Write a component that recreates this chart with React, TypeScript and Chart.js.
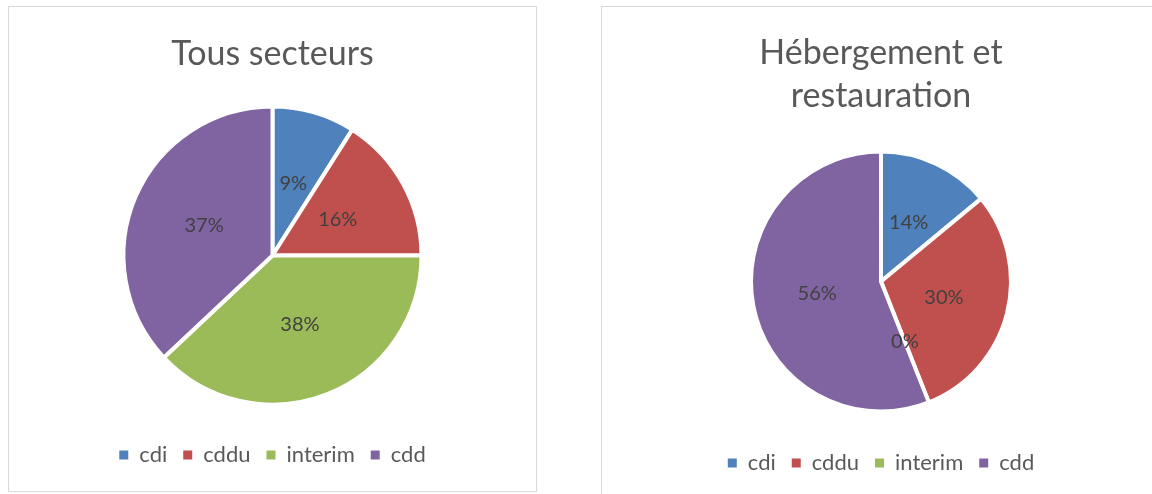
import React, { useEffect, useRef } from "react";
import { Chart, registerables } from "chart.js";

Chart.register(...registerables);

const categories = ["cdi", "cddu", "interim", "cdd"];
const colors = ["#4F81BD", "#C0504D", "#9BBB59", "#8064A2"];
const valuesAll = [9, 16, 38, 37];
const valuesHotel = [14, 30, 0, 56];
const titleAll = "Tous secteurs";
const titleHotel = ["Hébergement et", "restauration"];

const FONT = "Lato, 'Open Sans', sans-serif";

const labelPlugin = {
  id: "sliceLabels",
  afterDatasetsDraw(chart: any) {
    const ctx = chart.ctx;
    const meta = chart.getDatasetMeta(0);
    const data = chart.data.datasets[0].data;
    ctx.save();
    ctx.font = `20px ${FONT}`;
    ctx.fillStyle = "#404040";
    ctx.textAlign = "center";
    ctx.textBaseline = "middle";
    meta.data.forEach((arc: any, i: number) => {
      const p = arc.tooltipPosition(false);
      ctx.fillText(`${data[i]}%`, p.x, p.y);
    });
    ctx.restore();
  },
};

type PieProps = {
  values: number[];
  title: string | string[];
  radius: number;
  titlePad: { top: number; bottom: number };
  titleLineHeight: number;
  legendPad: number;
  bottomPad: number;
};

function PieChart(props: PieProps) {
  const ref = useRef<HTMLCanvasElement | null>(null);
  useEffect(() => {
    if (!ref.current) return;
    const chart = new Chart(ref.current, {
      type: "pie",
      data: {
        labels: categories,
        datasets: [
          {
            data: props.values,
            backgroundColor: colors,
            borderColor: "#ffffff",
            borderWidth: 4,
            radius: props.radius,
          } as any,
        ],
      },
      options: {
        animation: false,
        responsive: true,
        maintainAspectRatio: false,
        layout: { padding: { top: 0, bottom: props.bottomPad, left: 0, right: 0 } },
        plugins: {
          tooltip: { enabled: false },
          title: {
            display: true,
            text: props.title,
            color: "#595959",
            font: { family: FONT, size: 34, weight: "normal", lineHeight: props.titleLineHeight },
            padding: props.titlePad,
          },
          legend: {
            display: true,
            position: "bottom",
            labels: {
              boxWidth: 9,
              boxHeight: 9,
              padding: props.legendPad,
              color: "#595959",
              font: { family: FONT, size: 22 },
              generateLabels: (chart: any) => {
                const base = (Chart as any).overrides.pie.plugins.legend.labels.generateLabels(chart);
                return base.map((l: any) => ({ ...l, lineWidth: 0, strokeStyle: "rgba(0,0,0,0)" }));
              },
            },
          },
        },
      } as any,
      plugins: [labelPlugin],
    });
    return () => chart.destroy();
  }, []);
  return <canvas ref={ref} />;
}

export default function App() {
  return (
    <div style={{ position: "fixed", left: 0, top: 0, width: 1152, height: 494, overflow: "hidden", background: "#fff" }}>
      <div
        style={{
          position: "absolute",
          left: 8,
          top: 6,
          width: 527,
          height: 484,
          border: "1px solid #d9d9d9",
        }}
      >
        <div style={{ position: "relative", width: 527, height: 484 }}>
          <PieChart
            values={valuesAll}
            title={titleAll}
            radius={149}
            titlePad={{ top: 26.6, bottom: 8.6 }}
            titleLineHeight={1.2}
            legendPad={16}
            bottomPad={15}
          />
        </div>
      </div>
      <div
        style={{
          position: "absolute",
          left: 601,
          top: 6,
          width: 558,
          height: 500,
          border: "1px solid #d9d9d9",
        }}
      >
        <div style={{ position: "relative", width: 558, height: 500 }}>
          <PieChart
            values={valuesHotel}
            title={titleHotel}
            radius={130}
            titlePad={{ top: 25, bottom: 9 }}
            titleLineHeight={1.265}
            legendPad={16}
            bottomPad={23}
          />
        </div>
      </div>
    </div>
  );
}
